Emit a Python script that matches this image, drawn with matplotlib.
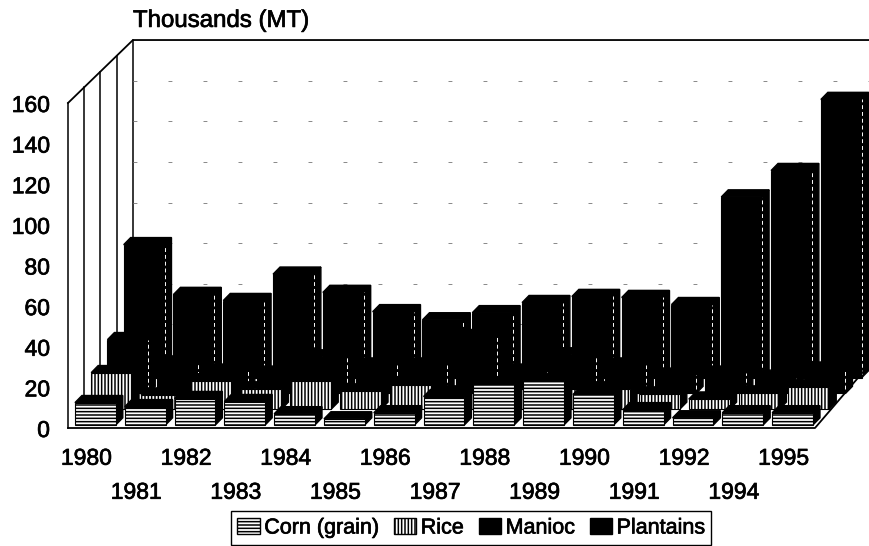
# chart of crop production, oblique 3d look
import numpy as np
import matplotlib
matplotlib.use('Agg')
import matplotlib.pyplot as plt
from matplotlib.patches import Patch
import matplotlib.patheffects as pe

plt.rcParams['font.family'] = ['Liberation Sans', 'DejaVu Sans']
plt.rcParams['hatch.linewidth'] = 1.1

years = ['1980', '1981', '1982', '1983', '1984', '1985', '1986', '1987',
         '1988', '1989', '1990', '1991', '1992', '1994', '1995']
corn = [11, 9, 13, 11.5, 5.5, 3, 6, 14, 20, 22, 15, 7.5, 3.5, 6, 6]
rice = [18, 7, 14, 10, 14, 9, 12, 8, 10, 10, 10, 7.5, 5, 8, 11]
manioc = [26.5, 15, 11, 10, 18, 14, 14, 28, 11, 19, 14, 9, 10, 8, 12]
plantains = [65.5, 41, 38, 51, 42, 32.5, 28.5, 32, 37, 40, 39.5, 36, 89, 102, 137]

series = [('Corn (grain)', corn, 'white', '-----'),
          ('Rice', rice, 'white', '|||||'),
          ('Manioc', manioc, 'black', None),
          ('Plantains', plantains, 'black', None)]

# depth of one row, in category units and in value units
row_dx = 0.326
row_dy = 7.75
inset_x = 0.14
inset_y = 1.5
bar_w = 0.82
bar_dx = 0.14
bar_dy = 3.5

fig = plt.figure(figsize=(8.69, 5.46), dpi=100)
ax = fig.add_axes([68 / 869, 118 / 546, 747 / 869, 325 / 546])
ax.set_xlim(0, 15)
ax.set_ylim(0, 160)
for s in ax.spines.values():
    s.set_visible(False)

# walls and floor
n = len(years)
back_x = 4 * row_dx
back_y = 4 * row_dy
far_x = 15.0 + 54 / 49.8
for k in range(5):
    ax.plot([k * row_dx] * 2, [k * row_dy, 160 + k * row_dy], color='black',
            lw=1.1, clip_on=False, zorder=1)
ax.plot([0, back_x, far_x], [160, 160 + back_y, 160 + back_y], color='black', lw=1.3, clip_on=False, zorder=1)
ax.plot([0, 15, far_x], [0, 0, back_y], color='black', lw=1.3, clip_on=False, zorder=30)
for v in range(20, 160, 20):
    ax.plot([back_x, far_x], [v + back_y] * 2, color='#888888', lw=0.7,
            ls=(0, (4, 32)), clip_on=False, zorder=1)

# rows back to front
for k in range(3, -1, -1):
    name, vals, col, hatch = series[k]
    z = 10 + (3 - k) * 4
    x0 = np.arange(n) + inset_x + k * row_dx
    base = inset_y + k * row_dy
    for xi, v in zip(x0, vals):
        top = base + v
        ax.fill([xi, xi + bar_dx, xi + bar_w + bar_dx, xi + bar_w],
                [top, top + bar_dy, top + bar_dy, top], color='black', clip_on=False, zorder=z)
        ax.fill([xi + bar_w, xi + bar_w + bar_dx, xi + bar_w + bar_dx, xi + bar_w],
                [base, base + bar_dy, top + bar_dy, top], color='black', clip_on=False, zorder=z)
        if col == 'black':
            ax.plot([xi + bar_w] * 2, [base + 2, top], color='white', lw=0.7,
                    ls=(0, (4, 3)), clip_on=False, zorder=z + 2)
    ax.bar(x0, vals, width=bar_w, bottom=base, align='edge', color=col, hatch=hatch,
           edgecolor='black', linewidth=0.8, clip_on=False, zorder=z + 1)

ax.set_yticks(range(0, 161, 20))
ax.tick_params(axis='y', length=0, pad=13, labelsize=16.5)
ax.set_xticks(np.arange(0, n, 2) + 0.37)
ax.set_xticklabels(years[::2])
ax.set_xticks(np.arange(1, n, 2) + 0.37, labels=years[1::2], minor=True)
ax.tick_params(axis='x', which='major', length=0, pad=13.5, labelsize=16.5)
ax.tick_params(axis='x', which='minor', length=0, pad=38, labelsize=16.5)

title = ax.text(back_x, 160 + back_y + 4, 'Thousands (MT)', fontsize=17.3, ha='left', va='bottom', clip_on=False)

handles = [Patch(facecolor=c, edgecolor='black', hatch=h, label=nm) for nm, v, c, h in series]
leg = fig.legend(handles=handles, loc='center', bbox_to_anchor=(471 / 869, 1 - 528 / 546),
                 ncol=4, fontsize=15.5, frameon=True, fancybox=False, framealpha=1,
                 edgecolor='black', handlelength=1.05, handleheight=0.7, handletextpad=0.2,
                 columnspacing=0.7, borderpad=0.3, borderaxespad=0)
leg.get_frame().set_linewidth(1.0)

# scanned text looks heavier than the plain face
stroke = [pe.withStroke(linewidth=0.5, foreground='black')]
texts = [title] + leg.get_texts() + ax.get_yticklabels() + ax.get_xticklabels() + ax.get_xticklabels(minor=True)
for t in texts:
    t.set_path_effects(stroke)

fig.savefig('out.png', dpi=100)
